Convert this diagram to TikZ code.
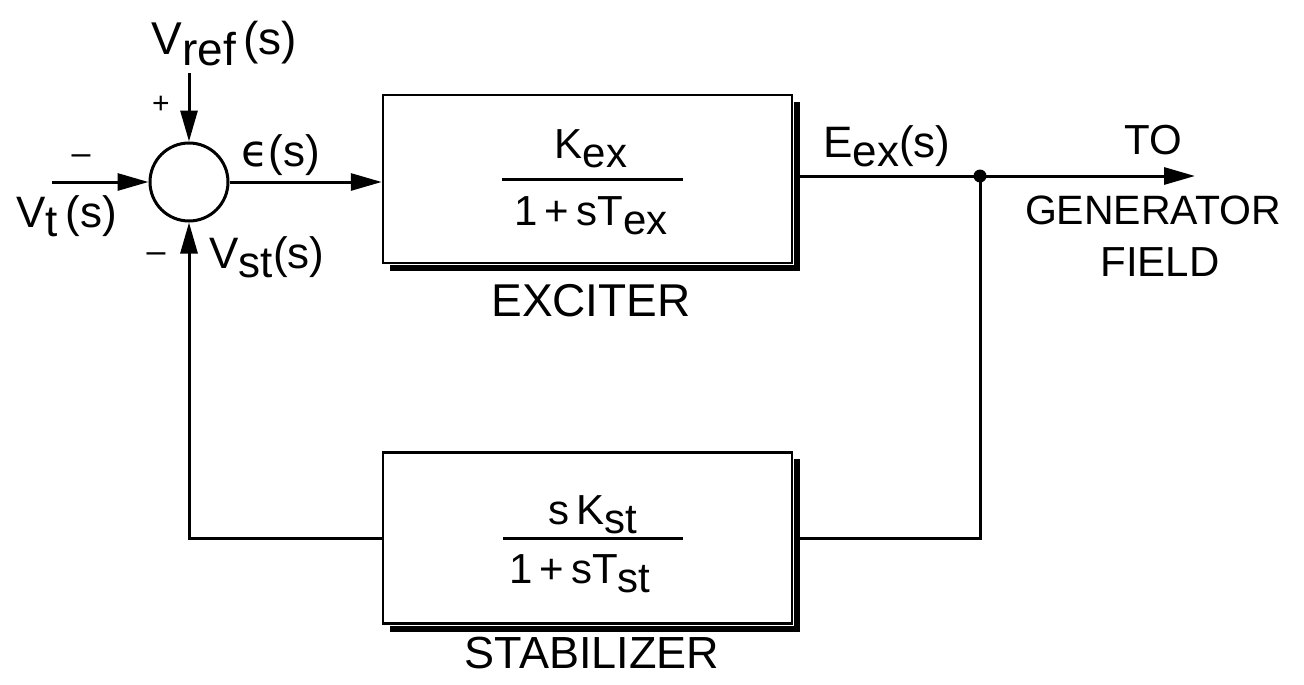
\documentclass[tikz,border=0pt]{standalone}
\usepackage{fontspec}
\setmainfont{Liberation Sans}
\newfontfamily\dejavu{DejaVu Sans}
\usetikzlibrary{arrows.meta}
\newcommand{\lo}[1]{\raisebox{-0.22em}{#1}}
\newcommand{\fs}[1]{\fontsize{#1}{#1}\selectfont}
\begin{document}
\begin{tikzpicture}[x=1pt,y=-1pt,line width=3pt,
  lbl/.style={inner sep=0pt,font=\fs{42}},
  blk/.style={draw,line width=2.5pt,minimum width=409pt,inner sep=0pt},
  arr/.style={-{Triangle[length=31pt,width=17pt]}},
  shadow/.style={line width=6pt},
  frac/.style={line width=3pt}]
\useasboundingbox (0,0) rectangle (1304,685);

% nodes
\node[draw,circle,minimum size=78pt,inner sep=0pt,line width=3pt] (sum) at (189,182) {};
\node[blk,minimum height=168pt] (exc) at (587.5,179) {};
\node[blk,minimum height=171pt] (stab) at (587.5,538) {};

% box shadows
\draw[shadow] ([shift={(4,8)}]exc.north east) -- ([shift={(4,4)}]exc.south east) -- ([shift={(8,4)}]exc.south west);
\draw[shadow] ([shift={(4,8)}]stab.north east) -- ([shift={(4,4)}]stab.south east) -- ([shift={(8,4)}]stab.south west);

% coordinates
\coordinate (vr) at (189,73);
\coordinate (vt) at (52,182);
\coordinate (j) at (980,176);
\coordinate (out) at (1195,176);

% connectors
\draw[arr] (vr) -- (sum.north);
\draw[arr] (vt) -- (sum.west);
\draw[arr] (sum.east) -- (exc.west |- sum.east);
\draw ([xshift=4pt]exc.east |- j) -- (j);
\draw[arr] (j) -- (out);
\fill (j) circle (6.5pt);
\draw (j) -- (j |- stab.east) -- ([xshift=4pt]stab.east);
\draw[arr] (stab.west) -| (sum.south);

% fractions
\node[lbl,font=\fs{42},anchor=base] (kex) at (591,158) {K\lo{ex}};
\draw[frac] (502,179) -- (683,179);
\node[lbl,font=\fs{42},anchor=base] (dex) at (591,225) {1\,+\,sT\lo{ex}};
\node[lbl,font=\fs{42},anchor=base] (kst) at (593,524) {s\,K\lo{st}};
\draw[frac] (503,538) -- (683,538);
\node[lbl,font=\fs{42},anchor=base] (dst) at (580,583) {1\,+\,sT\lo{st}};

% labels
\node[lbl,font=\fs{46},anchor=base west] (lvref) at (150,55) {V\lo{ref}\,(s)};
\node[lbl,font=\fs{30}] (lplus) at (161,105) {+};
\node[lbl,font=\fs{34}] (lm1) at (81,160) {–};
\node[lbl,font=\fs{44},anchor=base west] (lvt) at (15,227) {V\lo{t}\,(s)};
\node[lbl,font=\fs{44},anchor=base west] (leps) at (240,166) {{\dejavu ϵ}(s)};
\node[lbl,font=\fs{34}] (lm2) at (156,258) {–};
\node[lbl,font=\fs{44},anchor=base west] (lvst) at (208,268) {V\lo{st}(s)};
\node[lbl,font=\fs{44},anchor=base west] (leex) at (822,157) {E\lo{ex}(s)};
\node[lbl,font=\fs{42}] (lto) at (1153,140) {TO};
\node[lbl,font=\fs{41}] (lgen) at (1153,210) {GENERATOR};
\node[lbl,font=\fs{42}] (lfield) at (1160,262) {FIELD};
\node[lbl,font=\fs{46}] (lexc) at (591,301) {EXCITER};
\node[lbl,font=\fs{45}] (lstab) at (592,653) {STABILIZER};
\end{tikzpicture}
\end{document}
